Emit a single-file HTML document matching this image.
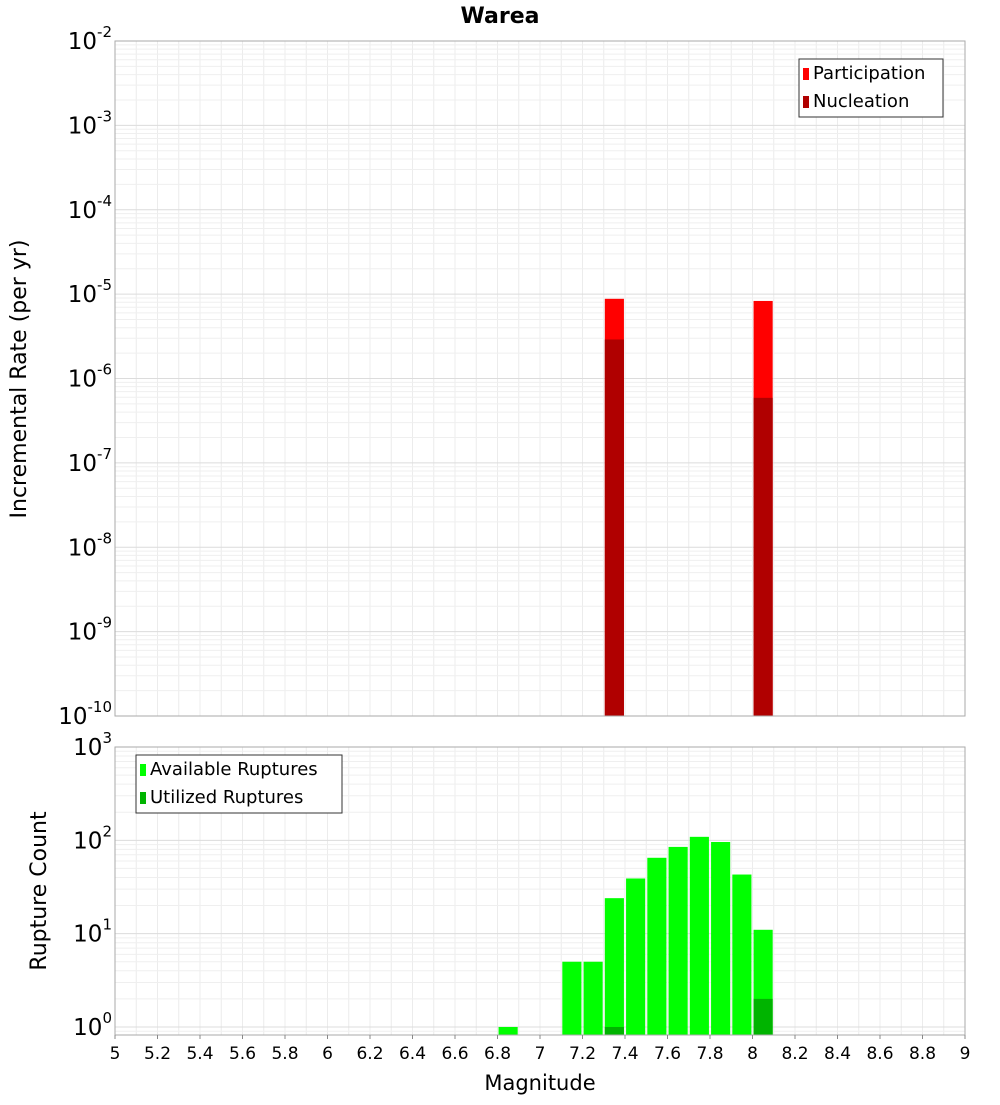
<!DOCTYPE html>
<html><head><meta charset="utf-8"><style>
body{margin:0;background:#fff;font-family:"Liberation Sans","DejaVu Sans",sans-serif}
svg text{font-family:"DejaVu Sans","Liberation Sans",sans-serif}
</style></head><body>
<svg id="c" width="1000" height="1100" xmlns="http://www.w3.org/2000/svg"></svg>
<script>
const partMags=[7.35,8.05];
const partVals=[8.8e-6,8.3e-6];
const nuclMags=[7.35,8.05];
const nuclVals=[2.9e-6,5.9e-7];
const availMags=[6.85,7.15,7.25,7.35,7.45,7.55,7.65,7.75,7.85,7.95,8.05];
const availVals=[1,5,5,24,39,65,85,109,96,43,11];
const utilMags=[7.35,8.05];
const utilVals=[1,2];
const xTicks=[5,5.2,5.4,5.6,5.8,6,6.2,6.4,6.6,6.8,7,7.2,7.4,7.6,7.8,8,8.2,8.4,8.6,8.8,9];
const topExps=[-2,-3,-4,-5,-6,-7,-8,-9,-10];
const botExps=[3,2,1,0];

const svg=document.getElementById('c');
const NS='http://www.w3.org/2000/svg';
function mk(t,a,p){const e=document.createElementNS(NS,t);for(const k in a)e.setAttribute(k,a[k]);(p||svg).appendChild(e);return e;}
const X0=115,X1=965;
const xs=m=>X0+(m-5)/4*(X1-X0);
const T0=41,T1=716;
const ysTop=v=>T0+(-2-Math.log10(v))/8*(T1-T0);
const B0=747,B1=1035,bMin=-0.086,bMax=3;
const ysBot=v=>B1-(Math.log10(v)-bMin)/(bMax-bMin)*(B1-B0);

function grid(y0,y1,ys,lo,hi,name){
  const g=mk('g',{});  
  for(let m=5;m<=9.001;m+=0.1){const x=xs(m);mk('line',{x1:x,x2:x,y1:y0,y2:y1,stroke:'#ececec','stroke-width':1},g);}
  for(let e=lo;e<hi;e++)for(let k=1;k<10;k++){const y=ys(k*Math.pow(10,e));if(y<y0||y>y1)continue;mk('line',{x1:X0,x2:X1,y1:y,y2:y,stroke:k==1?'#dcdcdc':'#efefef','stroke-width':1},g);}
}
grid(T0,T1,ysTop,-10,-2,'top-grid');
grid(B0,B1,ysBot,-1,3,'bottom-grid');

function bars(mags,vals,ys,base,color,name){
  mags.forEach((m,i)=>{const y=ys(vals[i]);const r=mk('rect',{x:xs(m-0.045),y:y,width:xs(m+0.045)-xs(m-0.045),height:base-y,fill:color});
  });
}
bars(partMags,partVals,ysTop,T1,'#ff0000','participation-bar');
bars(nuclMags,nuclVals,ysTop,T1,'#b00000','nucleation-bar');
bars(availMags,availVals,ysBot,B1,'#00ff00','available-bar');
bars(utilMags,utilVals,ysBot,B1,'#00b400','utilized-bar');

mk('rect',{x:X0,y:T0,width:X1-X0,height:T1-T0,fill:'none',stroke:'#aaa'});
mk('rect',{x:X0,y:B0,width:X1-X0,height:B1-B0,fill:'none',stroke:'#aaa'});

function txt(s,a,name){const t=mk('text',a);t.textContent=s;return t;}
function pow(e,y,name){const t=mk('text',{x:112,y:y+8,'text-anchor':'end','font-size':23,fill:'#000'});
  
  const a=mk('tspan',{},t);a.textContent='10';const b=mk('tspan',{dy:-12,'font-size':15},t);b.textContent=String(e);}
topExps.forEach(e=>pow(e,ysTop(Math.pow(10,e)),'top-y-tick'));
botExps.forEach(e=>pow(e,ysBot(Math.pow(10,e)),'bottom-y-tick'));
xTicks.forEach(m=>{const x=xs(m);mk('line',{x1:x,x2:x,y1:B1,y2:B1+4,stroke:'#888'});
  txt(String(m),{x:x,y:1059,'text-anchor':'middle','font-size':17},'x-tick-label');});

txt('Warea',{x:500,y:23,'text-anchor':'middle','font-size':22,'font-weight':'bold'},'chart-title');
txt('Magnitude',{x:540,y:1090,'text-anchor':'middle','font-size':21},'x-axis-title');
txt('Incremental Rate (per yr)',{x:0,y:0,'text-anchor':'middle','font-size':22,transform:'translate(26,379) rotate(-90)'},'top-y-axis-title');
txt('Rupture Count',{x:0,y:0,'text-anchor':'middle','font-size':22,transform:'translate(46,891) rotate(-90)'},'bottom-y-axis-title');

function legend(x,y,w,items,name){const g=mk('g',{});
  mk('rect',{x:x,y:y,width:w,height:58,fill:'#fff',stroke:'#333'},g);
  items.forEach((it,i)=>{mk('rect',{x:x+4,y:y+9+i*28,width:6,height:12,fill:it[1]},g);
   const t=mk('text',{x:x+14,y:y+20+i*28,'font-size':18},g);t.textContent=it[0];});}
legend(799,59,144,[['Participation','#ff0000'],['Nucleation','#b00000']],'top-legend');
legend(136,755,206,[['Available Ruptures','#00ff00'],['Utilized Ruptures','#00b400']],'bottom-legend');
</script>
</body></html>
